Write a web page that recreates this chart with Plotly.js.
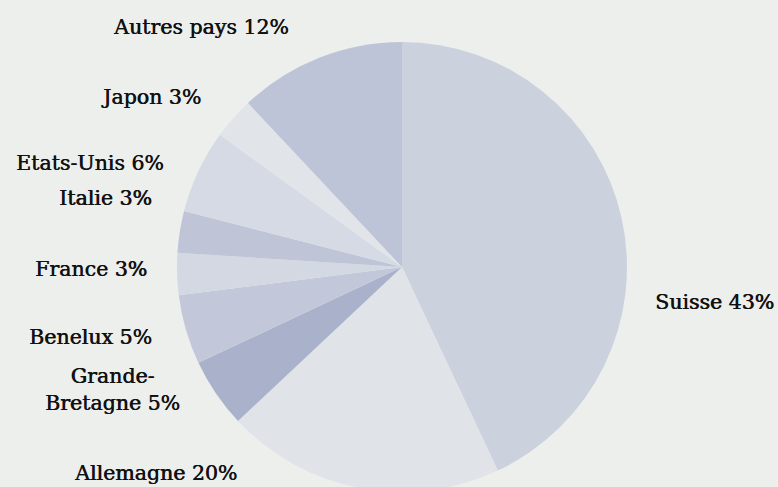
<!DOCTYPE html>
<html><head><meta charset="utf-8">
<script src="https://cdn.plot.ly/plotly-3.0.1.min.js"></script>
<style>html,body{margin:0;padding:0;overflow:hidden;background:#edefec;}#c{width:778px;height:500px;}</style>
</head><body><div id="c"></div>
<script>
const countries = ["Suisse","Allemagne","Grande-Bretagne","Benelux","France","Italie","Etats-Unis","Japon","Autres pays"];
const shares = [43,20,5,5,3,3,6,3,12];
const labelTexts = ["Suisse 43%","Allemagne 20%","Grande-<br>Bretagne 5%","Benelux 5%","France 3%","Italie 3%","Etats-Unis 6%","Japon 3%","Autres pays 12%"];
const colors = ["#ccd1de","#e0e4e9","#a9b2ca","#c2c8d9","#d3d8e3","#bfc5d7","#d5dae4","#e1e5ea","#bec4d7"];
// label anchor positions in px (x, y center, xanchor)
const labelPos = [[776,302,"right"],[239,473,"right"],[112,389,"center"],[154,337,"right"],[149,269,"right"],[154,198,"right"],[166,163,"right"],[203,97,"right"],[291,27,"right"]];
const W=778,H=500;
const annotations = labelTexts.map((t,i)=>({
  text:t, xref:"paper", yref:"paper", x:labelPos[i][0]/W, y:1-labelPos[i][1]/H,
  xanchor:labelPos[i][2], yanchor:"middle", showarrow:false, align:"center",
  font:{family:"'DejaVu Serif', serif", size:20.5, color:"#111", shadow:"0.6px 0 0 #111"}
}));
const data=[{type:"pie", labels:countries, values:shares, sort:false, direction:"clockwise", rotation:0,
  marker:{colors:colors, line:{width:0}}, textinfo:"none", hoverinfo:"label+percent",
  domain:{x:[(402-225)/W,(402+225)/W], y:[(233-225)/H,(233+225)/H]}}];
const layout={width:W,height:H,margin:{l:0,r:0,t:0,b:0},paper_bgcolor:"#edefec",showlegend:false,annotations:annotations};
Plotly.newPlot("c",data,layout,{displayModeBar:false,staticPlot:true});
</script></body></html>
